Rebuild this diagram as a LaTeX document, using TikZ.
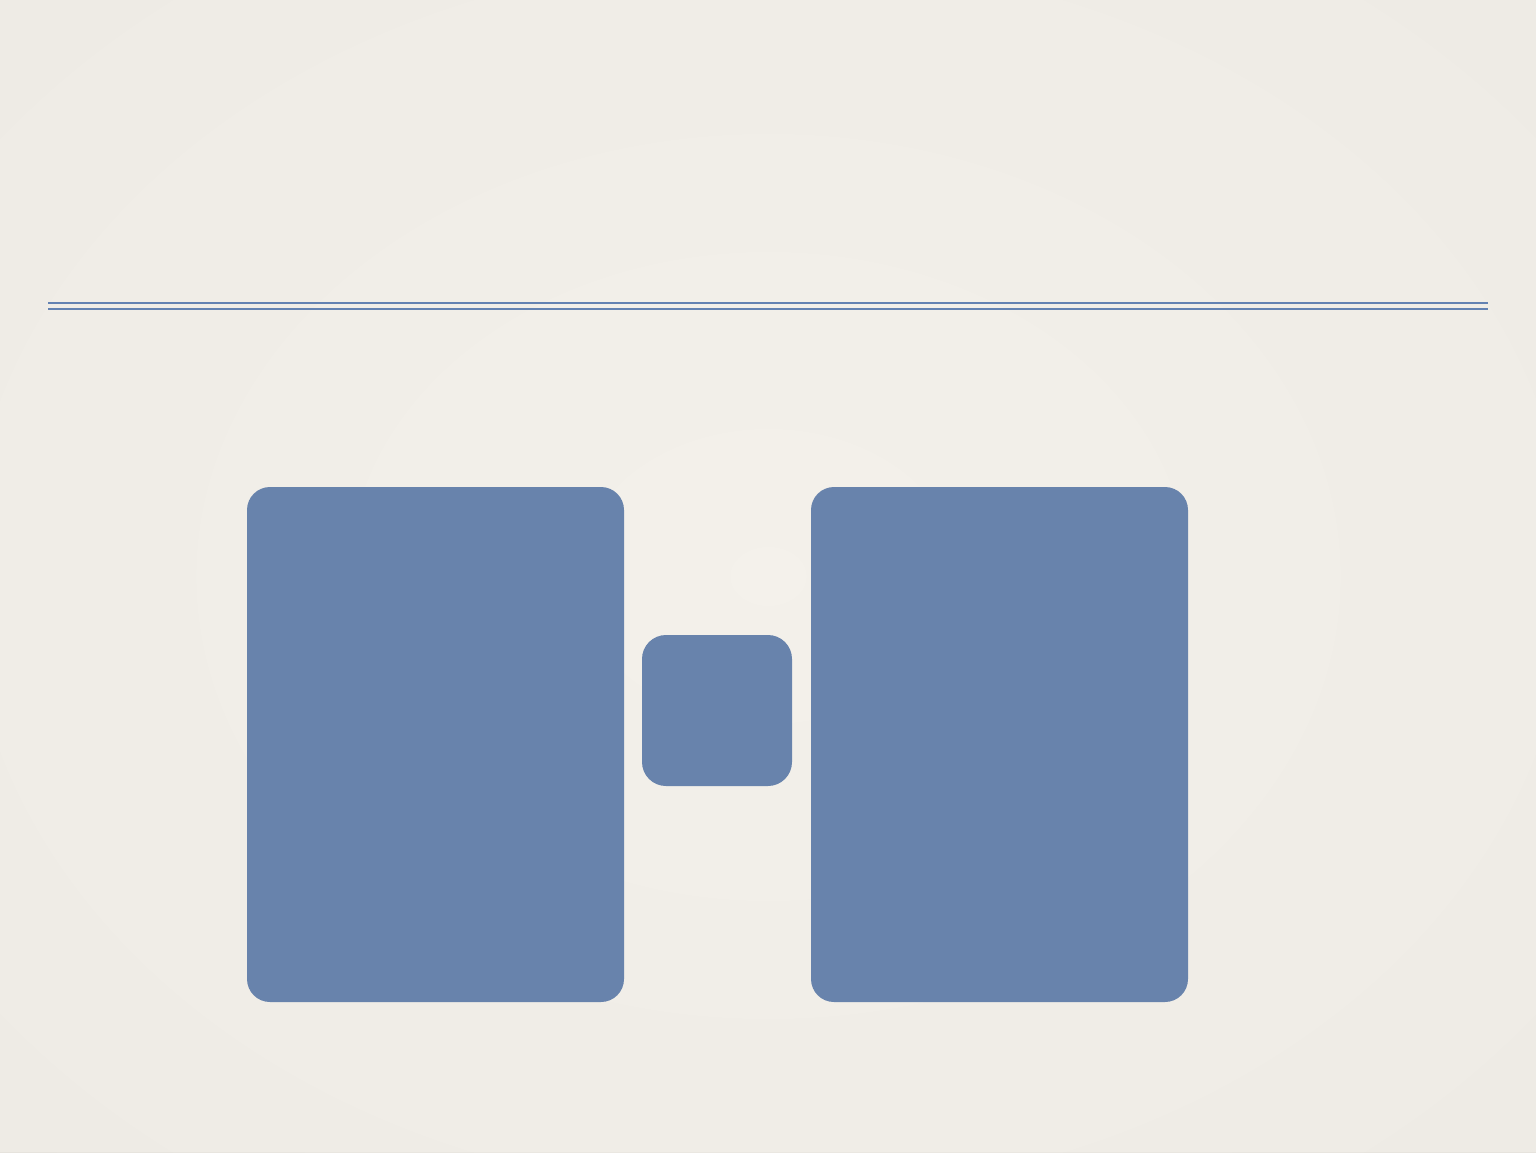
\documentclass[tikz,border=0pt]{standalone}
\definecolor{paper}{HTML}{F4F1EB}
\definecolor{paperedge}{HTML}{E6E3DD}
\definecolor{boxblue}{HTML}{6883AC}
\definecolor{lineblue}{HTML}{6382B2}
\tikzset{
  panel/.style={fill=boxblue, draw=none, rounded corners=23pt},
  rule/.style={draw=lineblue, line width=2pt}
}
\begin{document}
\begin{tikzpicture}[x=1pt,y=-1pt]
\useasboundingbox (0,0) rectangle (1536,1152);
\shade[inner color=paper, outer color=paperedge] (-300,-250) rectangle (1836,1402);
\fill[paper, opacity=0.6] (0,0) rectangle (1536,1152);
\coordinate (l1a) at (48,303);
\coordinate (l1b) at (1488,303);
\coordinate (l2a) at (48,309);
\coordinate (l2b) at (1488,309);
\draw[rule] (l1a) -- (l1b);
\draw[rule] (l2a) -- (l2b);
\path[panel] (247,487) rectangle (624,1002) node[pos=.5] (left) {};
\path[panel, rounded corners=24pt] (642,635) rectangle (792,786) node[pos=.5] (mid) {};
\path[panel] (811,487) rectangle (1188,1002) node[pos=.5] (right) {};
\end{tikzpicture}
\end{document}
